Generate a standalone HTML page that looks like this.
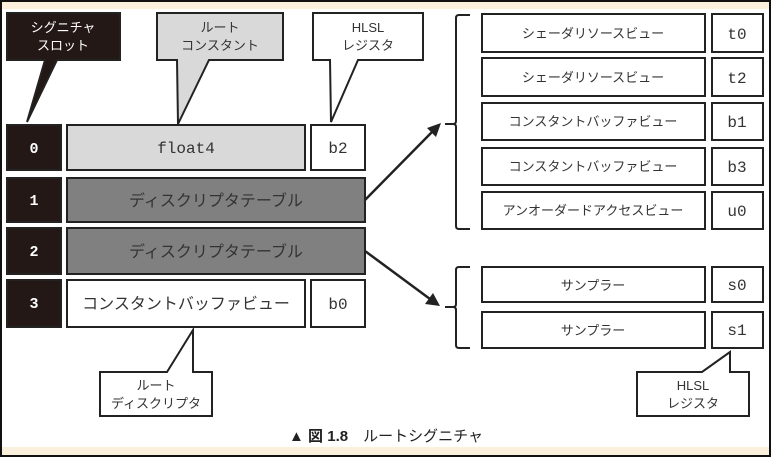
<!DOCTYPE html>
<html><head><meta charset="utf-8"><style>
html,body{margin:0;padding:0;background:#fff;}
svg{display:block;}
text{font-family:"Liberation Sans","Noto Sans CJK JP",sans-serif;}
.m{font-family:"Liberation Mono","DejaVu Sans Mono",monospace;}
</style></head><body>
<svg width="771" height="457" viewBox="0 0 771 457" xmlns="http://www.w3.org/2000/svg">
<rect x="0" y="0" width="771" height="457" fill="#fff"/>
<rect x="2" y="2" width="767" height="7" fill="#fbf0dc"/>
<rect x="2" y="447" width="767" height="8" fill="#fbf0dc"/>
<rect x="1" y="1" width="769" height="455" fill="none" stroke="#111" stroke-width="2"/>

<g stroke="#222" stroke-width="2">
<rect x="7" y="125" width="54" height="45" fill="#231815"/>
<rect x="7" y="178" width="54" height="44" fill="#231815"/>
<rect x="7" y="228" width="54" height="46" fill="#231815"/>
<rect x="7" y="280" width="54" height="47" fill="#231815"/>
<rect x="67" y="125" width="238" height="45" fill="#d9d9d9"/>
<rect x="311" y="125" width="54" height="45" fill="#fff"/>
<rect x="67" y="178" width="298" height="44" fill="#808080"/>
<rect x="67" y="228" width="298" height="46" fill="#808080"/>
<rect x="67" y="280" width="238" height="47" fill="#fff"/>
<rect x="311" y="280" width="54" height="47" fill="#fff"/>
<path d="M7,13 H120 V60 H57 L27,122 L45,60 H7 Z" fill="#231815"/>
<path d="M157,13 H283 V60 H209 L178,124 L177,60 H157 Z" fill="#d9d9d9"/>
<path d="M313,13 H423 V60 H358 L331,122 L330,60 H313 Z" fill="#fff"/>
<path d="M100,372 H167 L193,330 V372 H212 V416 H100 Z" fill="#fff"/>
<path d="M637,372 H702 L730,352 V372 H749 V416 H637 Z" fill="#fff"/>
<rect x="482" y="14" width="223" height="38" fill="#fff"/>
<rect x="712" y="14" width="51" height="38" fill="#fff"/>
<rect x="482" y="58" width="223" height="38" fill="#fff"/>
<rect x="712" y="58" width="51" height="38" fill="#fff"/>
<rect x="482" y="103" width="223" height="37" fill="#fff"/>
<rect x="712" y="103" width="51" height="37" fill="#fff"/>
<rect x="482" y="148" width="223" height="37" fill="#fff"/>
<rect x="712" y="148" width="51" height="37" fill="#fff"/>
<rect x="482" y="192" width="223" height="37" fill="#fff"/>
<rect x="712" y="192" width="51" height="37" fill="#fff"/>
<rect x="482" y="267" width="223" height="35" fill="#fff"/>
<rect x="712" y="267" width="51" height="35" fill="#fff"/>
<rect x="482" y="312" width="223" height="36" fill="#fff"/>
<rect x="712" y="312" width="51" height="36" fill="#fff"/>
<path d="M470,15 H459 Q456,15 456,18 V121 Q456,124 453,124 H445 M453,124 Q456,124 456,127 V226 Q456,229 459,229 H470" fill="none"/>
<path d="M470,267 H459 Q456,267 456,270 V304 Q456,307 453,307 H445 M453,307 Q456,307 456,310 V345 Q456,348 459,348 H470" fill="none"/>
<line x1="365" y1="200" x2="432" y2="132" stroke-width="2.5"/>
<line x1="365" y1="251" x2="430" y2="299" stroke-width="2.5"/>
</g>
<polygon points="441,123 427,128 436,137" fill="#222"/>
<polygon points="440,306 425,304 433,293" fill="#222"/>

<g font-size="13" fill="#fff" text-anchor="middle">
<text x="63" y="32">シグニチャ</text>
<text x="63" y="50">スロット</text>
</g>
<g font-size="13" fill="#333" text-anchor="middle">
<text x="220" y="32">ルート</text>
<text x="220" y="50">コンスタント</text>
<text x="368" y="32">HLSL</text>
<text x="368" y="50">レジスタ</text>
<text x="156" y="390">ルート</text>
<text x="156" y="408">ディスクリプタ</text>
<text x="693" y="390">HLSL</text>
<text x="693" y="408">レジスタ</text>
</g>
<g font-size="15" fill="#fff" text-anchor="middle" font-weight="bold">
<text class="m" x="34" y="153">0</text>
<text class="m" x="34" y="205">1</text>
<text class="m" x="34" y="256">2</text>
<text class="m" x="34" y="308">3</text>
</g>
<g font-size="16" fill="#333" text-anchor="middle">
<text class="m" x="186" y="153">float4</text>
<text class="m" x="338" y="153">b2</text>
<text x="216" y="206">ディスクリプタテーブル</text>
<text x="216" y="257">ディスクリプタテーブル</text>
<text x="186" y="309">コンスタントバッファビュー</text>
<text class="m" x="338" y="309">b0</text>
</g>
<g font-size="13" fill="#333" text-anchor="middle">
<text x="593" y="38">シェーダリソースビュー</text>
<text x="593" y="82">シェーダリソースビュー</text>
<text x="593" y="126">コンスタントバッファビュー</text>
<text x="593" y="171">コンスタントバッファビュー</text>
<text x="593" y="215">アンオーダードアクセスビュー</text>
<text x="593" y="290">サンプラー</text>
<text x="593" y="335">サンプラー</text>
</g>
<g font-size="16" fill="#333" text-anchor="middle">
<text class="m" x="737" y="39">t0</text>
<text class="m" x="737" y="83">t2</text>
<text class="m" x="737" y="127">b1</text>
<text class="m" x="737" y="172">b3</text>
<text class="m" x="737" y="216">u0</text>
<text class="m" x="737" y="290">s0</text>
<text class="m" x="737" y="335">s1</text>
</g>
<text x="386" y="441" font-size="15" fill="#222" text-anchor="middle"><tspan font-weight="bold">▲ 図 1.8</tspan>　ルートシグニチャ</text>
</svg>
</body></html>
